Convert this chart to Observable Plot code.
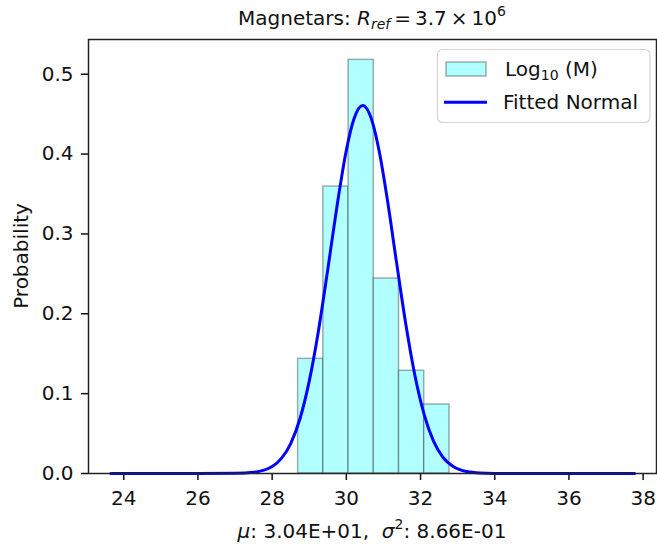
<!DOCTYPE html>
<html><head><meta charset="utf-8">
<script src="https://cdn.jsdelivr.net/npm/d3@7"></script>
<script src="https://cdn.jsdelivr.net/npm/@observablehq/plot@0.6"></script>
<style>
body{margin:0;background:#fff}
#chart{position:relative;width:657px;height:550px}
svg text{white-space:pre}
</style>
</head><body><div id="chart"></div>
<script>
// Histogram (density) of Log10(M)
const binEdges = [28.70, 29.38, 30.06, 30.74, 31.42, 32.10, 32.78];
const binDensity = [0.1436, 0.3594, 0.518, 0.2442, 0.1286, 0.0864];
// Fitted normal curve
const curveX = [23.65, 26.0, 27.0, 27.5, 28.0, 28.25, 28.5, 28.75, 29.0, 29.25, 29.5, 29.75, 30.0, 30.2, 30.44, 30.7, 30.9, 31.1, 31.35, 31.6, 31.85, 32.1, 32.35, 32.6, 32.9, 33.25, 33.6, 34.0, 35.0, 37.77];
const curveY = [0.0, 0.0, 0.0002, 0.0015, 0.0087, 0.0189, 0.0375, 0.0686, 0.1157, 0.1792, 0.2556, 0.3354, 0.4049, 0.4433, 0.4607, 0.4404, 0.4001, 0.3446, 0.2653, 0.1879, 0.1224, 0.0734, 0.0405, 0.0205, 0.0082, 0.0024, 0.0006, 0.0001, 0.0, 0.0];
const xTicks = [24, 26, 28, 30, 32, 34, 36, 38];
const yTicks = [0.0, 0.1, 0.2, 0.3, 0.4, 0.5];
const legendLabels = ["Log", "Fitted Normal"];

const bins = binDensity.map((d, i) => ({x1: binEdges[i], x2: binEdges[i + 1], d}));
const curve = curveX.map((x, i) => ({x, y: curveY[i]}));

const font = "DejaVu Sans, sans-serif";
const plot = Plot.plot({
  width: 657, height: 550,
  marginLeft: 88, marginRight: 1, marginTop: 39, marginBottom: 77,
  style: {fontFamily: font, fontSize: "20px", color: "#111", background: "#fff"},
  x: {domain: [23.05, 38.36]},
  y: {domain: [0, 0.5435]},
  marks: [
    Plot.rectY(bins, {x1: "x1", x2: "x2", y1: 0, y2: "d", fill: "#b2ffff", stroke: "#000", strokeOpacity: 0.32, strokeWidth: 1.5}),
    Plot.line(curve, {x: "x", y: "y", stroke: "#0000ff", strokeWidth: 3, curve: "monotone-x"}),
    Plot.axisX({ticks: xTicks, tickFormat: d => String(d), tickSize: 7, tickPadding: 10, strokeWidth: 1.5, label: null, fontSize: 20}),
    Plot.axisY({ticks: yTicks, tickFormat: d3.format(".1f"), tickSize: 7, tickPadding: 8, strokeWidth: 1.5, label: null, fontSize: 20}),
    Plot.frame({stroke: "#222", strokeWidth: 1.5})
  ]
});
document.getElementById("chart").appendChild(plot);

const svg = d3.select(plot);
// Title
const t = svg.append("text").attr("x", 372).attr("y", 25).attr("text-anchor", "middle")
  .attr("font-family", font).attr("font-size", 20).attr("fill", "#111");
t.append("tspan").text("Magnetars: ");
t.append("tspan").attr("font-style", "italic").text("R");
t.append("tspan").attr("font-style", "italic").attr("font-size", 14).attr("dy", 4).text("ref");
t.append("tspan").attr("dy", -4).text("\u2009=\u20093.7\u2009×\u200910");
t.append("tspan").attr("font-size", 14).attr("dy", -9).text("6");

// X label
const xl = svg.append("text").attr("x", 372).attr("y", 538).attr("text-anchor", "middle")
  .attr("font-family", font).attr("font-size", 20).attr("fill", "#111");
xl.append("tspan").attr("font-style", "italic").text("μ");
xl.append("tspan").text(": 3.04E+01,  ");
xl.append("tspan").attr("font-style", "italic").text("σ");
xl.append("tspan").attr("font-size", 14).attr("dy", -9).text("2");
xl.append("tspan").attr("dy", 9).text(": 8.66E-01");

// Y label
svg.append("text").attr("transform", "translate(28,256) rotate(-90)").attr("text-anchor", "middle")
  .attr("font-family", font).attr("font-size", 20).attr("fill", "#111").text("Probability");

// Legend
const lg = svg.append("g").attr("text-anchor", "start");
lg.append("rect").attr("x", 437.5).attr("y", 49.5).attr("width", 212.5).attr("height", 73)
  .attr("rx", 5).attr("fill", "#fff").attr("fill-opacity", 0.8).attr("stroke", "#d4d4d4").attr("stroke-width", 1.2);
lg.append("rect").attr("x", 446).attr("y", 62).attr("width", 40).attr("height", 14)
  .attr("fill", "#b2ffff").attr("stroke", "#000").attr("stroke-opacity", 0.32).attr("stroke-width", 1.5);
lg.append("line").attr("x1", 444).attr("x2", 487).attr("y1", 102.3).attr("y2", 102.3)
  .attr("stroke", "#0000ff").attr("stroke-width", 3);
const l1 = lg.append("text").attr("x", 505).attr("y", 76).attr("text-anchor", "start")
  .attr("font-family", font).attr("font-size", 20).attr("fill", "#111");
l1.append("tspan").text(legendLabels[0]);
l1.append("tspan").attr("font-size", 14).attr("dy", 4).text("10");
l1.append("tspan").attr("dy", -4).text(" (M)");
lg.append("text").attr("x", 503).attr("y", 109).attr("text-anchor", "start")
  .attr("font-family", font).attr("font-size", 20).attr("fill", "#111").text(legendLabels[1]);
</script>
</body></html>
